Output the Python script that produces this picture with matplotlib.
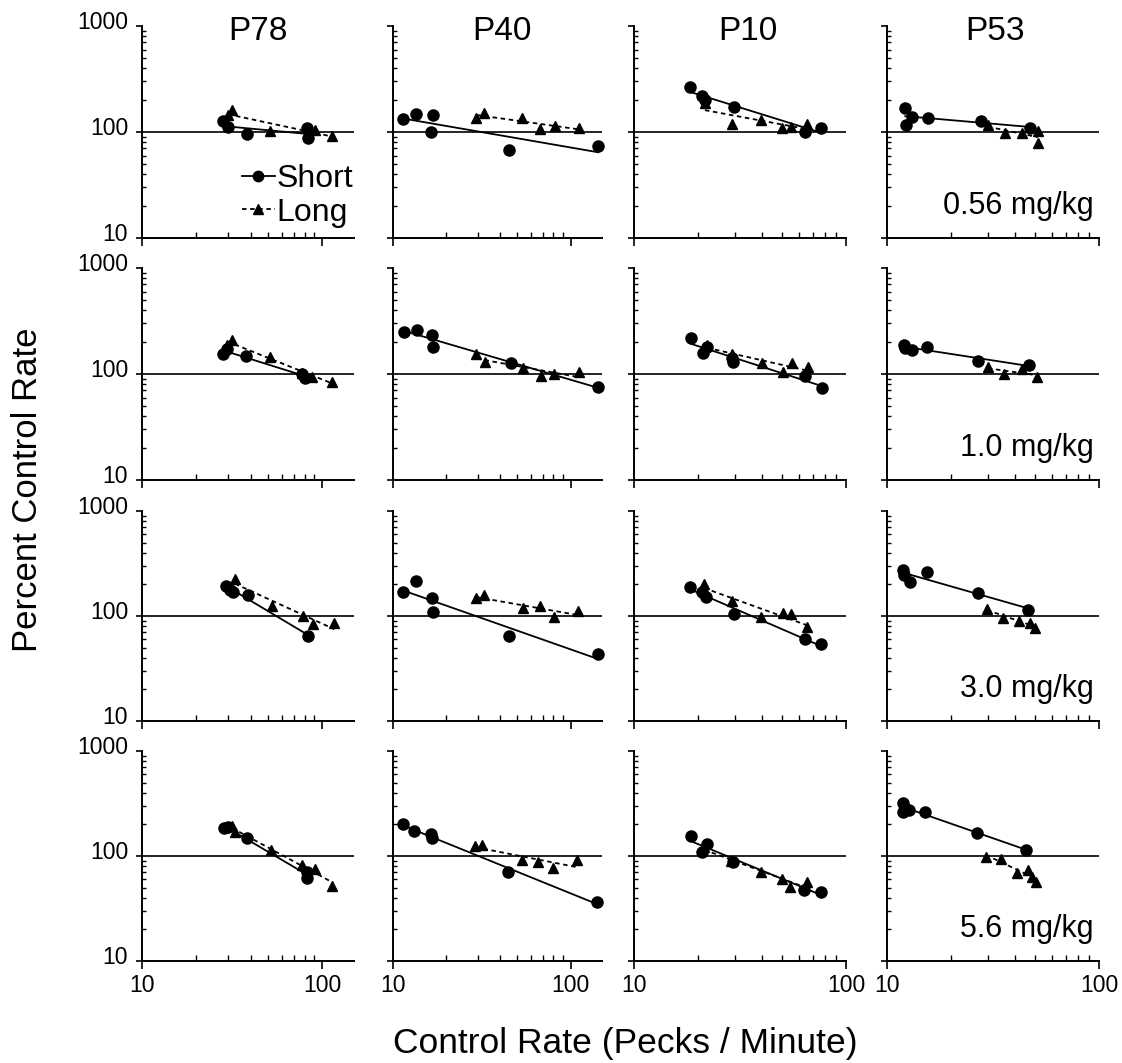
import numpy as np
import matplotlib.pyplot as plt
from matplotlib.lines import Line2D
from matplotlib.ticker import LogLocator, NullFormatter
from matplotlib.transforms import ScaledTranslation

plt.rcParams['font.family'] = ['Liberation Sans', 'DejaVu Sans']

birds = ["P78", "P40", "P10", "P53"]
doses = ["0.56 mg/kg", "1.0 mg/kg", "3.0 mg/kg", "5.6 mg/kg"]

# control rate (x) and percent of control (y), one inner list per bird (P78, P40, P10, P53)
short_x_056 = [[28, 30, 38, 82, 83],
               [11.4, 13.4, 16.9, 16.3, 45.1, 143],
               [18.4, 20.9, 21.6, 29.6, 64.1, 76.2],
               [12.2, 13.1, 12.3, 15.6, 27.8, 47.3]]
short_y_056 = [[126, 112, 95, 110, 87],
               [133, 148, 145, 100, 68, 74],
               [266, 219, 200, 172, 100, 109],
               [168, 139, 116, 136, 127, 109]]
long_x_056 = [[30, 31.6, 51.4, 91, 113.6],
              [29.5, 32.6, 53.3, 67.1, 81.4, 111],
              [21.6, 29, 39.7, 49.9, 55, 65.5],
              [29.9, 36, 43.3, 51.5, 51.5]]
long_y_056 = [[145, 161, 102, 104, 92],
              [136, 151, 136, 107, 114, 109],
              [188, 119, 130, 109, 111, 120],
              [116, 98, 98, 102, 79]]

short_x_10 = [[28.2, 29.7, 37.8, 77.4, 80],
              [11.5, 13.6, 16.5, 16.9, 46.2, 143],
              [18.6, 21.2, 22.1, 29.3, 29, 64, 77],
              [12.0, 12.1, 13.1, 15.4, 26.9, 46.8]]
short_y_10 = [[154, 172, 148, 100, 92],
              [249, 260, 233, 180, 127, 75],
              [219, 158, 180, 130, 142, 95, 74],
              [188, 176, 168, 180, 133, 122]]
long_x_10 = [[29.7, 31.6, 51.4, 77.4, 88, 113.6],
             [29.5, 33, 54, 68, 81, 112],
             [22.1, 29, 40, 50.4, 55.6, 66],
             [29.9, 35.6, 43.3, 51]]
long_y_10 = [[188, 209, 145, 102, 94, 84],
             [154, 130, 114, 96, 100, 104],
             [188, 154, 127, 104, 127, 116],
             [116, 100, 111, 94]]

short_x_30 = [[29.3, 30.8, 32, 38.8, 83.6],
              [11.4, 13.4, 16.5, 16.7, 45, 142],
              [18.4, 20.9, 21.9, 29.6, 64.1, 76.2],
              [11.9, 12.0, 12.8, 15.4, 26.9, 46.2]]
short_y_30 = [[193, 177, 169, 158, 64.5],
              [169, 215, 148, 109, 64.5, 43.5],
              [189, 169, 152, 104, 60, 54],
              [274, 246, 211, 262, 166, 114]]
long_x_30 = [[32.8, 52.7, 78, 89, 116.6],
             [29.5, 32.6, 53.9, 67, 81, 110],
             [21.4, 29, 39.7, 50.4, 55, 65.5],
             [29.6, 35.2, 42, 47.2, 50]]
long_y_30 = [[225, 124, 100, 84, 86],
             [148, 158, 119, 124, 98, 112],
             [202, 139, 98, 107, 104, 78.5],
             [117, 96, 90, 86, 77]]

short_x_56 = [[28.5, 30, 38.3, 82.6, 82.6],
              [11.4, 13.1, 16.3, 16.5, 44.5, 140],
              [18.6, 22.1, 20.9, 29.3, 63.4, 76.2],
              [11.9, 11.9, 12.7, 15.1, 26.6, 45.3]]
short_y_56 = [[185, 189, 148, 62, 70],
              [202, 173, 162, 148, 70.4, 36.5],
              [155, 130, 109, 87.7, 47.5, 45.4],
              [320, 262, 274, 262, 166, 114]]
long_x_56 = [[31.6, 32.8, 52, 77.4, 91.5, 113.6],
             [29.1, 31.8, 53.2, 65.4, 79, 108],
             [21.4, 28.6, 39.7, 49.8, 54.4, 65.5],
             [29.3, 34.5, 41, 46.2, 48.3, 50.4]]
long_y_56 = [[193, 169, 114, 82, 75, 52],
             [124, 127, 91.6, 88, 77, 91.6],
             [122, 89.6, 70, 60, 50.7, 56.6],
             [98, 94, 69, 74, 63, 56.6]]

short_x = [short_x_056, short_x_10, short_x_30, short_x_56]
short_y = [short_y_056, short_y_10, short_y_30, short_y_56]
long_x = [long_x_056, long_x_10, long_x_30, long_x_56]
long_y = [long_y_056, long_y_10, long_y_30, long_y_56]

# panel layout in pixels
W, H = 1122, 1063
col_left = [142, 393, 634, 887]
col_w = [212, 209, 212, 212]
row_top = [26, 268, 511, 751]
row_h = [212, 212, 210, 210]
x_max = [150, 150, 100, 100]
title_x = [258, 502, 748, 995]

DASH = (0, (2.5, 2))


def fit_line(ax, x, y, ls):
    # power function fit (straight line in log-log)
    b, a = np.polyfit(np.log10(x), np.log10(y), 1)
    xs = np.array([min(x), max(x)])
    ax.plot(xs, 10 ** (a + b * np.log10(xs)), color='black', lw=1.3, ls=ls, zorder=2)


fig = plt.figure(figsize=(W / 100, H / 100), dpi=100)
lift = ScaledTranslation(0, 4 / 72, fig.dpi_scale_trans)

for r in range(4):
    for c in range(4):
        ax = fig.add_axes([col_left[c] / W, 1 - (row_top[r] + row_h[r]) / H,
                           col_w[c] / W, row_h[r] / H])
        ax.set_xscale('log')
        ax.set_yscale('log')
        ax.set_xlim(10, x_max[c])
        ax.set_ylim(10, 1000)
        for s in ['top', 'right']:
            ax.spines[s].set_visible(False)
        for s in ['left', 'bottom']:
            ax.spines[s].set_linewidth(1.4)

        ax.axhline(100, color='black', lw=1.2, zorder=1)

        sx, sy = short_x[r][c], short_y[r][c]
        lx, ly = long_x[r][c], long_y[r][c]
        fit_line(ax, sx, sy, '-')
        fit_line(ax, lx, ly, DASH)
        ax.plot(sx, sy, 'o', color='black', ms=8, zorder=3, clip_on=False)
        ax.plot(lx, ly, '^', color='black', ms=7, zorder=3, clip_on=False)

        ax.set_xticks([10, 100])
        ax.set_xticklabels(['10', '100'])
        ax.set_yticks([10, 100, 1000])
        ax.set_yticklabels(['10', '100', '1000'])
        ax.xaxis.set_minor_locator(LogLocator(base=10, subs=np.arange(2, 10)))
        ax.xaxis.set_minor_formatter(NullFormatter())
        ax.yaxis.set_minor_locator(LogLocator(base=10, subs=np.arange(2, 10)))
        ax.yaxis.set_minor_formatter(NullFormatter())
        ax.tick_params(axis='x', which='major', direction='out', length=6, width=1.2,
                       labelsize=16.5, pad=3, labelbottom=(r == 3))
        ax.tick_params(axis='x', which='minor', direction='in', length=4, width=1)
        ax.tick_params(axis='y', which='major', direction='out', length=4, width=1.2,
                       labelsize=16.5, pad=6, labelleft=(c == 0))
        ax.tick_params(axis='y', which='minor', direction='in', length=3, width=1)
        for lab in ax.get_yticklabels():
            lab.set_transform(lab.get_transform() + lift)

        if c == 3:
            ax.text(0.975, 0.115, doses[r], transform=ax.transAxes, ha='right',
                    va='baseline', fontsize=22)
        if r == 0 and c == 0:
            handles = [Line2D([], [], color='black', lw=1.3, marker='o', ms=7.5),
                       Line2D([], [], color='black', lw=1.3, ls=DASH, marker='^', ms=7)]
            ax.legend(handles, ['Short', 'Long'], loc='upper left',
                      bbox_to_anchor=(0.47, 0.35), frameon=False, fontsize=23,
                      handlelength=1.05, handletextpad=0.05, borderpad=0,
                      labelspacing=0.12, borderaxespad=0)

for c in range(4):
    fig.text(title_x[c] / W, 1 - 31 / H, birds[c], ha='center', va='center', fontsize=24)

fig.text(28 / W, 1 - 490 / H, 'Percent Control Rate', rotation=90,
         ha='center', va='center', fontsize=25)
fig.text(625 / W, 1 - 1053 / H, 'Control Rate (Pecks / Minute)',
         ha='center', va='baseline', fontsize=25.5)

fig.savefig('out.png', dpi=100)
